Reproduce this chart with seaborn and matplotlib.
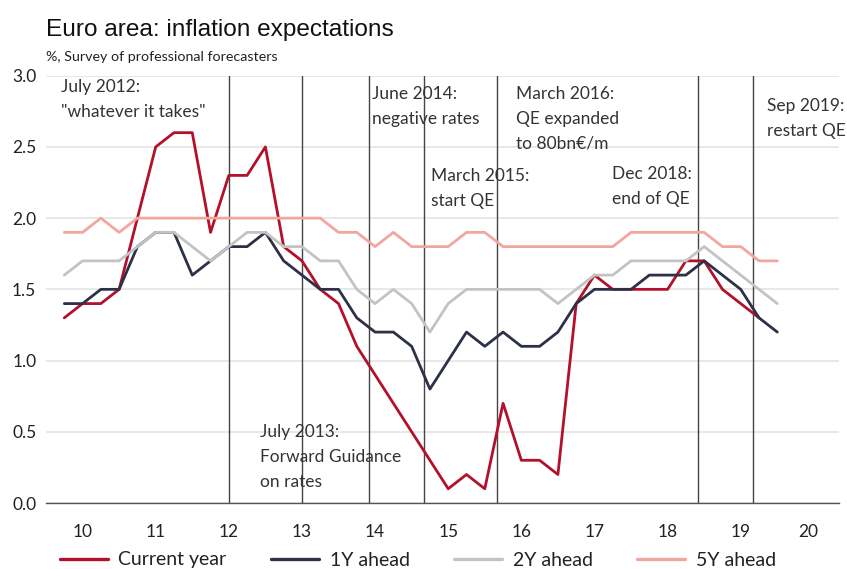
import matplotlib
matplotlib.use("Agg")
import matplotlib.pyplot as plt
import numpy as np
import pandas as pd
import seaborn as sns

# ---------------- data ----------------
years = list(range(2010, 2020))
quarter_labels = [f"{y}Q{q}" for y in years for q in range(1, 5)]

current_year = [1.3, 1.4, 1.4, 1.5, 2.0, 2.5, 2.6, 2.6, 1.9, 2.3, 2.3, 2.5,
                1.8, 1.7, 1.5, 1.4, 1.1, 0.9, 0.7, 0.5, 0.3, 0.1, 0.2, 0.1,
                0.7, 0.3, 0.3, 0.2, 1.4, 1.6, 1.5, 1.5, 1.5, 1.5, 1.7, 1.7,
                1.5, 1.4, 1.3]
one_year = [1.4, 1.4, 1.5, 1.5, 1.8, 1.9, 1.9, 1.6, 1.7, 1.8, 1.8, 1.9,
            1.7, 1.6, 1.5, 1.5, 1.3, 1.2, 1.2, 1.1, 0.8, 1.0, 1.2, 1.1,
            1.2, 1.1, 1.1, 1.2, 1.4, 1.5, 1.5, 1.5, 1.6, 1.6, 1.6, 1.7,
            1.6, 1.5, 1.3, 1.2]
two_year = [1.6, 1.7, 1.7, 1.7, 1.8, 1.9, 1.9, 1.8, 1.7, 1.8, 1.9, 1.9,
            1.8, 1.8, 1.7, 1.7, 1.5, 1.4, 1.5, 1.4, 1.2, 1.4, 1.5, 1.5,
            1.5, 1.5, 1.5, 1.4, 1.5, 1.6, 1.6, 1.7, 1.7, 1.7, 1.7, 1.8,
            1.7, 1.6, 1.5, 1.4]
five_year = [1.9, 1.9, 2.0, 1.9, 2.0, 2.0, 2.0, 2.0, 2.0, 2.0, 2.0, 2.0,
             2.0, 2.0, 2.0, 1.9, 1.9, 1.8, 1.9, 1.8, 1.8, 1.8, 1.9, 1.9,
             1.8, 1.8, 1.8, 1.8, 1.8, 1.8, 1.8, 1.9, 1.9, 1.9, 1.9, 1.9,
             1.8, 1.8, 1.7, 1.7]

series_names = ["Current year", "1Y ahead", "2Y ahead", "5Y ahead"]
series_values = [current_year, one_year, two_year, five_year]
series_colors = ["#B3102B", "#2C3146", "#C3C3C3", "#F3A69E"]

x_tick_labels = ["10", "11", "12", "13", "14", "15", "16", "17", "18", "19", "20"]

event_dates = [(2012, 7), (2013, 7), (2014, 6), (2015, 3), (2016, 3), (2018, 12), (2019, 9)]
event_texts = ['July 2012:\n"whatever it takes"',
               'July 2013:\nForward Guidance\non rates',
               'June 2014:\nnegative rates',
               'March 2015:\nstart QE',
               'March 2016:\nQE expanded\nto 80bn€/m',
               'Dec 2018:\nend of QE',
               'Sep 2019:\nrestart QE']

# ---------------- build frame ----------------
def q_pos(lbl):
    y, q = lbl.split("Q")
    return int(y) + int(q) / 4.0

rows = []
for name, vals in zip(series_names, series_values):
    for lbl, v in zip(quarter_labels, vals):
        rows.append({"x": q_pos(lbl), "value": v, "series": name})
df = pd.DataFrame(rows)

# ---------------- style ----------------
sns.set_theme(style="white")
plt.rcParams["font.family"] = ["Lato", "DejaVu Sans"]

W, H = 847, 569
fig = plt.figure(figsize=(W / 100, H / 100), dpi=100)
ax_left, ax_right, ax_top, ax_bottom = 46, 839, 75.7, 503
ax = fig.add_axes([ax_left / W, 1 - ax_bottom / H,
                   (ax_right - ax_left) / W, (ax_bottom - ax_top) / H])

x_min = 2010
x_max = 2020 + (ax_right - 777.3) / 73.13

# gridlines
ax.set_axisbelow(True)
ax.yaxis.grid(True, color="#E4E4E4", linewidth=1.2)

# event lines
for (yy, mm) in event_dates:
    ax.axvline(yy + (mm - 1) / 12.0, color="#444444", linewidth=1.0, zorder=1.5)

palette = dict(zip(series_names, series_colors))
sns.lineplot(data=df, x="x", y="value", hue="series", hue_order=series_names,
             palette=palette, linewidth=2.0, ax=ax, sort=False, zorder=3)

ax.set_xlim(x_min, x_max)
ax.set_ylim(0, 3.0)
ax.set_xlabel("")
ax.set_ylabel("")

# y axis
ax.set_yticks(np.arange(0, 3.01, 0.5))
ax.set_yticklabels([f"{v:.1f}" for v in np.arange(0, 3.01, 0.5)])
ax.tick_params(axis="y", length=0, pad=7, labelsize=12.5, labelcolor="#222222")

# x axis: major ticks at year boundaries, labels centred in visible span
major = list(range(2010, 2021))
ax.set_xticks(major)
ax.set_xticklabels([""] * len(major))
centres = []
for k in range(len(x_tick_labels)):
    a = max(2010 + k, x_min)
    b = min(2011 + k, x_max)
    centres.append((a + b) / 2)
ax.set_xticks(centres, minor=True)
ax.set_xticklabels(x_tick_labels, minor=True)
ax.tick_params(axis="x", which="major", length=6, width=1, color="#555555", direction="out")
ax.tick_params(axis="x", which="minor", length=0, pad=15, labelsize=12.5, labelcolor="#222222")

for s in ["top", "right", "left"]:
    ax.spines[s].set_visible(False)
ax.spines["bottom"].set_color("#555555")
ax.spines["bottom"].set_linewidth(1.0)

# annotations (pixel positions converted to data coords)
ann_px = [(61, 79), (260, 424), (371.7, 86), (430.7, 168), (515.7, 86), (611.7, 166), (766.7, 97.7)]
for (px, py), txt in zip(ann_px, event_texts):
    xd = 2010 + (px - ax_left) / 73.13
    yd = (ax_bottom - py) / ((ax_bottom - ax_top) / 3.0)
    ax.text(xd, yd, txt, fontsize=12.5, color="#333333", va="top", ha="left",
            linespacing=1.68, zorder=4)

# legend
sns.move_legend(ax, "center", bbox_to_anchor=(418 / W, 1 - 560 / H),
                bbox_transform=fig.transFigure, ncol=4, frameon=False, title=None,
                fontsize=14, handlelength=2.45, handletextpad=0.55, columnspacing=2.3)
for t in ax.get_legend().get_texts():
    t.set_color("#222222")
for h in ax.get_legend().get_lines():
    h.set_linewidth(2.4)

# titles
fig.text(ax_left / W, 1 - 36 / H, "Euro area: inflation expectations",
         fontsize=17.6, family=["Liberation Sans", "DejaVu Sans"], color="#111111",
         va="baseline", ha="left")
fig.text(ax_left / W, 1 - 61 / H, "%, Survey of professional forecasters",
         fontsize=10.3, color="#222222", va="baseline", ha="left")

fig.savefig("out.png", dpi=100)
